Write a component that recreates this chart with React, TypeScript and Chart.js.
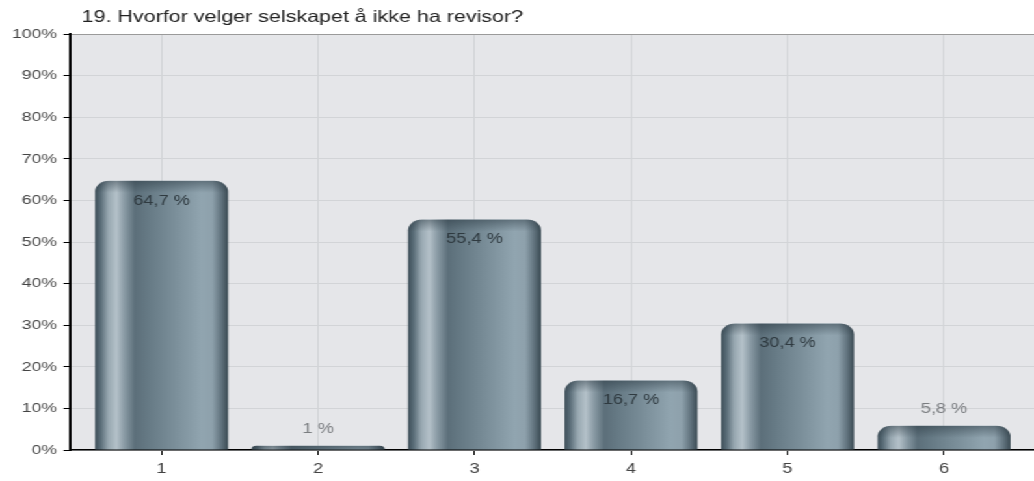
import { useEffect, useRef } from "react";
import { Chart, registerables } from "chart.js";

Chart.register(...registerables);

// Survey question and answer shares (percent of respondents)
const questionTitle = "19. Hvorfor velger selskapet å ikke ha revisor?";
const answerOptions = [1, 2, 3, 4, 5, 6];
const answerShares = [64.7, 1, 55.4, 16.7, 30.4, 5.8];

// Canvas is drawn narrower and widened with CSS, giving the wide lettering
const OUT_WIDTH = 1034;
const OUT_HEIGHT = 481;
const STRETCH = 1.3;
const CANVAS_WIDTH = Math.round(OUT_WIDTH / STRETCH);

const FONT = "'Liberation Sans', Arial, Helvetica, sans-serif";

const formatShare = (v: number) => String(v).replace(".", ",") + " %";

// Horizontal shading of the cylinder-like bars
const barStops: [number, string][] = [
  [0, "#3e4f59"],
  [0.04, "#586b76"],
  [0.1, "#98a8b1"],
  [0.16, "#b4c1c9"],
  [0.22, "#8a9ba5"],
  [0.3, "#5c6f7a"],
  [0.4, "#667a85"],
  [0.6, "#7b8f9a"],
  [0.8, "#91a5b0"],
  [0.88, "#8ea1ac"],
  [0.94, "#667883"],
  [1, "#3a4a53"],
];

const plotBackground = {
  id: "plotBackground",
  beforeDraw(chart: any) {
    const { ctx, chartArea: a } = chart;
    ctx.save();
    ctx.fillStyle = "#e5e6e9";
    ctx.fillRect(a.left, a.top, a.right - a.left, a.bottom - a.top);
    ctx.restore();
  },
};

const shadedBars = {
  id: "shadedBars",
  afterDatasetsDraw(chart: any) {
    const ctx = chart.ctx as CanvasRenderingContext2D;
    const meta = chart.getDatasetMeta(0);
    meta.data.forEach((el: any, i: number) => {
      const { x, y, base, width } = el.getProps(["x", "y", "base", "width"], true);
      const left = x - width / 2;
      const right = x + width / 2;
      const h = base - y;
      const r = Math.max(0, Math.min(11, h, width / 2));

      ctx.save();
      ctx.beginPath();
      ctx.moveTo(left, base);
      ctx.lineTo(left, y + r);
      ctx.arcTo(left, y, left + r, y, r);
      ctx.lineTo(right - r, y);
      ctx.arcTo(right, y, right, y + r, r);
      ctx.lineTo(right, base);
      ctx.closePath();
      const g = ctx.createLinearGradient(left, 0, right, 0);
      barStops.forEach(([o, c]) => g.addColorStop(o, c));
      ctx.fillStyle = g;
      ctx.fill();
      ctx.clip();
      const cap = ctx.createLinearGradient(0, y, 0, y + 12);
      cap.addColorStop(0, "rgba(38,52,61,0.45)");
      cap.addColorStop(1, "rgba(38,52,61,0)");
      ctx.fillStyle = cap;
      ctx.fillRect(left, y, width, 12);
      ctx.restore();

      const v = answerShares[i];
      ctx.save();
      ctx.font = `14px ${FONT}`;
      ctx.textAlign = "center";
      ctx.textBaseline = "middle";
      if (v >= 10) {
        ctx.fillStyle = "#2f3a40";
        ctx.fillText(formatShare(v), x, y + 20);
      } else {
        ctx.fillStyle = "#7a7d80";
        ctx.fillText(formatShare(v), x, y - 17);
      }
      ctx.restore();
    });
  },
};

const heading = {
  id: "heading",
  afterDraw(chart: any) {
    const ctx = chart.ctx as CanvasRenderingContext2D;
    ctx.save();
    ctx.font = `16.5px ${FONT}`;
    ctx.fillStyle = "#222";
    ctx.textAlign = "left";
    ctx.textBaseline = "alphabetic";
    ctx.fillText(questionTitle, chart.chartArea.left + 9, 22);
    ctx.restore();
  },
};

export default function App() {
  const canvasRef = useRef<HTMLCanvasElement | null>(null);

  useEffect(() => {
    if (!canvasRef.current) return;
    const chart = new Chart(canvasRef.current, {
      type: "bar",
      data: {
        datasets: [
          {
            data: answerOptions.map((c, i) => ({ x: c, y: answerShares[i] })),
            backgroundColor: "rgba(0,0,0,0)",
            borderWidth: 0,
            barPercentage: 0.85,
            categoryPercentage: 1,
          },
        ],
      },
      options: {
        animation: false,
        responsive: false,
        devicePixelRatio: 1,
        layout: { padding: { top: 34, left: 0, right: 0, bottom: 0 } },
        plugins: {
          legend: { display: false },
          tooltip: { enabled: false },
          title: { display: false },
        },
        scales: {
          x: {
            type: "linear",
            offset: false,
            min: 0.415,
            max: 6.575,
            afterFit: (s: any) => {
              s.height = OUT_HEIGHT - 450;
            },
            ticks: {
              stepSize: 1,
              includeBounds: false,
              padding: 6,
              color: "#444",
              font: { family: FONT, size: 14 },
            },
            grid: {
              offset: false,
              color: "#d2d4d7",
              tickColor: "#000",
              tickLength: 5,
            },
            border: { color: "#000", width: 1.5 },
          },
          y: {
            min: 0,
            max: 100,
            afterFit: (s: any) => {
              s.width = 70 / STRETCH;
            },
            ticks: {
              stepSize: 10,
              padding: 5,
              color: "#444",
              font: { family: FONT, size: 13.5 },
              callback: (v: any) => `${v}%`,
            },
            grid: {
              color: (c: any) => (c.tick && c.tick.value === 100 ? "#9a9a9a" : "#d2d4d7"),
              tickColor: "#000",
              tickLength: 5,
            },
            border: { color: "#000", width: 2 },
          },
        },
      },
      plugins: [plotBackground, shadedBars, heading],
    } as any);
    return () => chart.destroy();
  }, []);

  return (
    <div
      style={{
        position: "absolute",
        left: 0,
        top: 0,
        width: CANVAS_WIDTH,
        height: OUT_HEIGHT,
        transform: `scaleX(${OUT_WIDTH / CANVAS_WIDTH})`,
        transformOrigin: "0 0",
        background: "#fff",
      }}
    >
      <canvas ref={canvasRef} width={CANVAS_WIDTH} height={OUT_HEIGHT} />
    </div>
  );
}
